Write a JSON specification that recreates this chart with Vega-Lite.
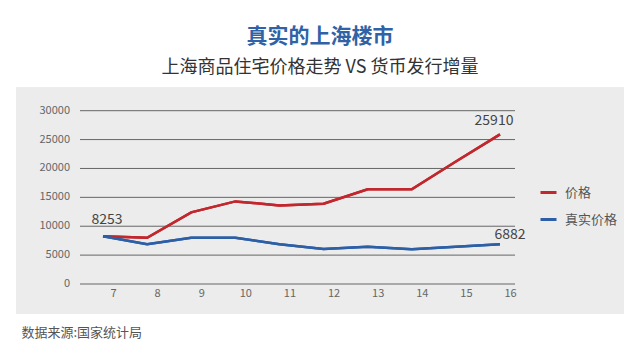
{
  "$schema": "https://vega.github.io/schema/vega-lite/v6.json",
  "autosize": "none",
  "width": 608,
  "height": 227,
  "padding": {"left": 16, "top": 87, "right": 16, "bottom": 42},
  "background": "white",
  "title": {
    "text": "真实的上海楼市",
    "subtitle": "上海商品住宅价格走势 VS 货币发行增量",
    "anchor": "middle",
    "dx": 0,
    "offset": 10,
    "font": "Noto Sans CJK SC",
    "fontSize": 21,
    "fontWeight": "bold",
    "color": "#2f62a6",
    "subtitleFont": "Noto Sans CJK SC",
    "subtitleFontSize": 18,
    "subtitleColor": "#333333",
    "subtitlePadding": 12
  },
  "config": {
    "view": {"stroke": null, "fill": "#ececec"},
    "font": "Noto Sans CJK SC",
    "axis": {"labelFont": "Noto Sans CJK SC", "labelColor": "#666666", "labelFontSize": 11}
  },
  "datasets": {
    "series": [
      {"month": 7, "series": "价格", "value": 8253},
      {"month": 8, "series": "价格", "value": 8000},
      {"month": 9, "series": "价格", "value": 12400},
      {"month": 10, "series": "价格", "value": 14300},
      {"month": 11, "series": "价格", "value": 13600},
      {"month": 12, "series": "价格", "value": 13900},
      {"month": 13, "series": "价格", "value": 16400},
      {"month": 14, "series": "价格", "value": 16400},
      {"month": 15, "series": "价格", "value": 21200},
      {"month": 16, "series": "价格", "value": 25910},
      {"month": 7, "series": "真实价格", "value": 8253},
      {"month": 8, "series": "真实价格", "value": 6900},
      {"month": 9, "series": "真实价格", "value": 8000},
      {"month": 10, "series": "真实价格", "value": 8000},
      {"month": 11, "series": "真实价格", "value": 6900},
      {"month": 12, "series": "真实价格", "value": 6050},
      {"month": 13, "series": "真实价格", "value": 6450},
      {"month": 14, "series": "真实价格", "value": 6000},
      {"month": 15, "series": "真实价格", "value": 6450},
      {"month": 16, "series": "真实价格", "value": 6882}
    ],
    "grid": [
      {"tick": 0}, {"tick": 5000}, {"tick": 10000}, {"tick": 15000},
      {"tick": 20000}, {"tick": 25000}, {"tick": 30000}
    ]
  },
  "layer": [
    {
      "data": {"name": "series"},
      "mark": {"type": "line", "strokeWidth": 2.5},
      "encoding": {
        "x": {
          "field": "month",
          "type": "quantitative",
          "scale": {"domain": [5.0276, 18.811], "nice": false, "zero": false},
          "axis": {
            "values": [7, 8, 9, 10, 11, 12, 13, 14, 15, 16],
            "format": "d",
            "grid": false,
            "domain": false,
            "ticks": false,
            "labelOverlap": false,
            "labelOffset": 10,
            "labelPadding": 0,
            "labelBaseline": "top",
            "offset": -27,
            "title": "数据来源:国家统计局",
            "titleX": 5,
            "titleY": 45,
            "titleAlign": "left",
            "titleAnchor": "start",
            "titleBaseline": "middle",
            "titleFontSize": 13,
            "titleFontWeight": "normal",
            "titleColor": "#555555",
            "titleFont": "Noto Sans CJK SC"
          }
        },
        "y": {
          "field": "value",
          "type": "quantitative",
          "scale": {"domain": [-5193, 34101], "nice": false, "zero": false},
          "axis": null
        },
        "color": {
          "field": "series",
          "type": "nominal",
          "scale": {"domain": ["价格", "真实价格"], "range": ["#c1272d", "#2d5fa6"]},
          "legend": {
            "orient": "none",
            "legendX": 523,
            "legendY": 96,
            "title": null,
            "symbolType": "stroke",
            "symbolSize": 256,
            "symbolStrokeWidth": 3,
            "labelFontSize": 13,
            "labelColor": "#555555",
            "labelFont": "Noto Sans CJK SC",
            "labelOffset": 7,
            "rowPadding": 10
          }
        }
      }
    },
    {
      "data": {"name": "grid"},
      "mark": {"type": "rule", "color": "#666666", "strokeWidth": 1},
      "encoding": {
        "y": {"field": "tick", "type": "quantitative"},
        "x": {"datum": 6.4786, "type": "quantitative"},
        "x2": {"datum": 16.34}
      }
    },
    {
      "data": {"name": "grid"},
      "mark": {"type": "text", "fontSize": 11, "color": "#666666", "align": "right", "baseline": "middle", "dx": -10},
      "encoding": {
        "y": {"field": "tick", "type": "quantitative"},
        "x": {"datum": 6.4786, "type": "quantitative"},
        "text": {"field": "tick", "type": "quantitative", "format": "d"}
      }
    },
    {
      "data": {"name": "series"},
      "mark": {"type": "line", "strokeWidth": 2.5},
      "encoding": {
        "x": {"field": "month", "type": "quantitative"},
        "y": {"field": "value", "type": "quantitative"},
        "color": {"field": "series", "type": "nominal"}
      }
    },
    {
      "data": {"name": "series"},
      "transform": [{"filter": "datum.month == 7 && datum.series == '价格'"}],
      "mark": {"type": "text", "fontSize": 14, "color": "#444444", "dy": -16, "dx": 4},
      "encoding": {
        "x": {"field": "month", "type": "quantitative"},
        "y": {"field": "value", "type": "quantitative"},
        "text": {"field": "value", "type": "quantitative", "format": "d"}
      }
    },
    {
      "data": {"name": "series"},
      "transform": [{"filter": "datum.month == 16 && datum.series == '价格'"}],
      "mark": {"type": "text", "fontSize": 14, "color": "#444444", "dy": -13, "dx": -6},
      "encoding": {
        "x": {"field": "month", "type": "quantitative"},
        "y": {"field": "value", "type": "quantitative"},
        "text": {"field": "value", "type": "quantitative", "format": "d"}
      }
    },
    {
      "data": {"name": "series"},
      "transform": [{"filter": "datum.month == 16 && datum.series == '真实价格'"}],
      "mark": {"type": "text", "fontSize": 14, "color": "#444444", "dy": -9, "dx": 10},
      "encoding": {
        "x": {"field": "month", "type": "quantitative"},
        "y": {"field": "value", "type": "quantitative"},
        "text": {"field": "value", "type": "quantitative", "format": "d"}
      }
    }
  ]
}
